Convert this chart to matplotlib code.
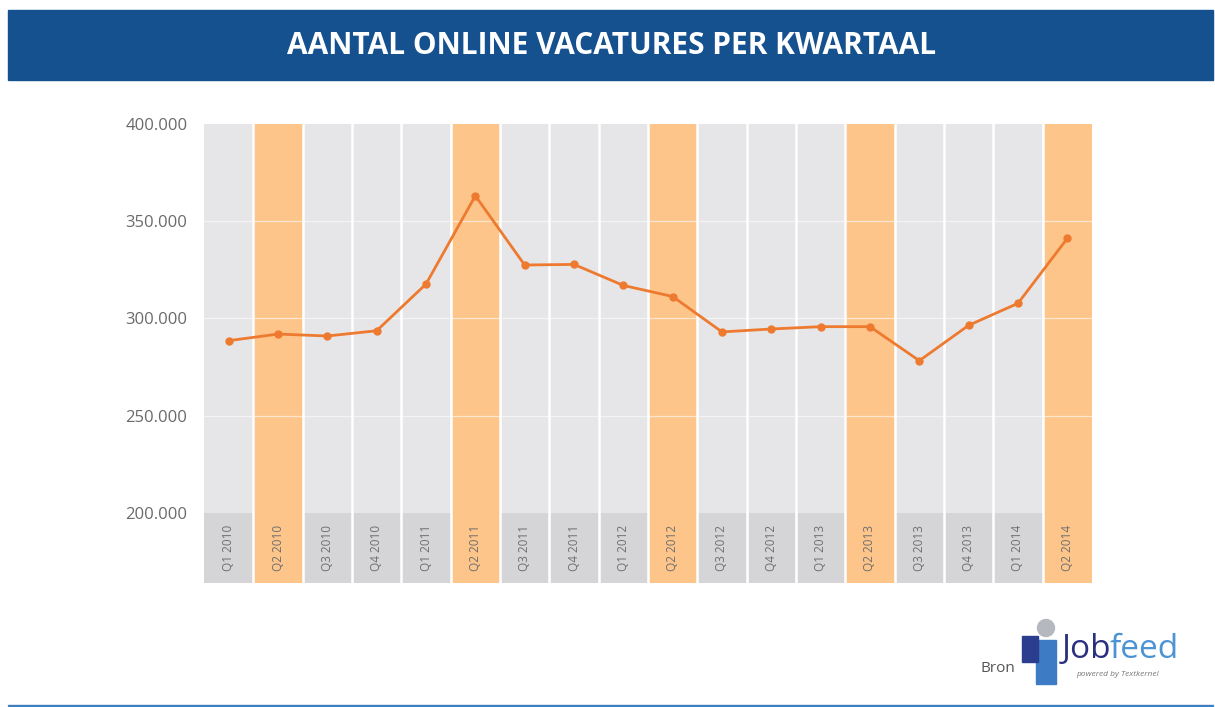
import matplotlib.pyplot as plt
import matplotlib.patches as mpatches
import numpy as np

plt.rcParams['font.family'] = ['Open Sans', 'DejaVu Sans']

# data
kwartalen = ['Q1 2010', 'Q2 2010', 'Q3 2010', 'Q4 2010',
             'Q1 2011', 'Q2 2011', 'Q3 2011', 'Q4 2011',
             'Q1 2012', 'Q2 2012', 'Q3 2012', 'Q4 2012',
             'Q1 2013', 'Q2 2013', 'Q3 2013', 'Q4 2013',
             'Q1 2014', 'Q2 2014']
vacatures = [288600, 292000, 291000, 293700,
             317700, 363100, 327500, 327800,
             317000, 311300, 293100, 294600,
             295800, 295800, 278300, 296500,
             307800, 341200]
y_ticks = [200000, 250000, 300000, 350000, 400000]
y_labels = ['200.000', '250.000', '300.000', '350.000', '400.000']

blauw = '#15518f'
oranje_lijn = '#ee7a30'
oranje_kolom = '#fdc58a'
grijs_kolom = '#e6e6e8'
grijs_band = '#d5d5d7'

fig = plt.figure(figsize=(12.15, 7.07), dpi=100)

# titelbalk
fig.patches.append(mpatches.Rectangle((8/1215, 1-80/707), 1205/1215, 70/707,
                                      transform=fig.transFigure, color=blauw))
fig.text(0.503, 1-46/707, 'AANTAL ONLINE VACATURES PER KWARTAAL', color='white',
         fontsize=21.5, fontweight='bold', ha='center', va='center')
# lijn onderaan
fig.patches.append(mpatches.Rectangle((8/1215, 1-706/707), 1205/1215, 1.5/707,
                                      transform=fig.transFigure, color='#3f7fc0'))

ax = fig.add_axes([204/1215, 124/707, 888/1215, 459/707])
ymin, ymax = 164000, 400000
x = np.arange(len(kwartalen))
is_q2 = [k.startswith('Q2') for k in kwartalen]

# kolommen
for i, q2 in enumerate(is_q2):
    if q2:
        ax.bar(i, ymax - ymin, bottom=ymin, width=1, color=oranje_kolom,
               linewidth=0, zorder=1)
    else:
        ax.bar(i, ymax - 200000, bottom=200000, width=1, color=grijs_kolom,
               linewidth=0, zorder=1)
        ax.bar(i, 200000 - ymin, bottom=ymin, width=1, color=grijs_band,
               linewidth=0, zorder=1)
    ax.text(i, (ymin + 200000) / 2, kwartalen[i], rotation=90, ha='center',
            va='center', fontsize=8.5, color='#6f6f6f', zorder=3)

for i in range(len(kwartalen) - 1):
    ax.axvline(i + 0.5, color='white', lw=1.8, zorder=2)

for yv in [250000, 300000, 350000]:
    ax.axhline(yv, color='white', lw=0.9, alpha=0.6, zorder=2)

ax.plot(x, vacatures, color=oranje_lijn, lw=2, marker='o', markersize=5, zorder=4)

ax.set_xlim(-0.5, len(kwartalen) - 0.5)
ax.set_ylim(ymin, ymax)
ax.set_xticks([])
ax.set_yticks(y_ticks)
ax.set_yticklabels(y_labels, fontsize=12, color='#6a6a6a')
ax.tick_params(axis='y', length=0, pad=12)
for s in ax.spines.values():
    s.set_visible(False)

# bron + logo
fig.text(980/1215, 1-668/707, 'Bron', fontsize=11, color='#555555', va='center')
fig.patches.append(mpatches.Rectangle((1036/1215, 1-684/707), 20/1215, 44/707,
                                      transform=fig.transFigure, color='#3d7cc4'))
fig.patches.append(mpatches.Rectangle((1022/1215, 1-662/707), 16/1215, 26/707,
                                      transform=fig.transFigure, color='#2b3d8f'))
fig.patches.append(mpatches.Ellipse((1046/1215, 1-628/707), 17/1215, 17/707,
                                    transform=fig.transFigure, color='#b5b8bf'))
fig.text(1111/1215, 1-650/707, 'Job', fontsize=24, color='#2b2f80', va='center',
         ha='right')
fig.text(1110/1215, 1-650/707, 'feed', fontsize=24, color='#4c93d3', va='center',
         ha='left')
fig.text(1076/1215, 1-674/707, 'powered by Textkernel', fontsize=6, color='#777777',
         style='italic', va='center')

plt.savefig('out.png', dpi=100)
